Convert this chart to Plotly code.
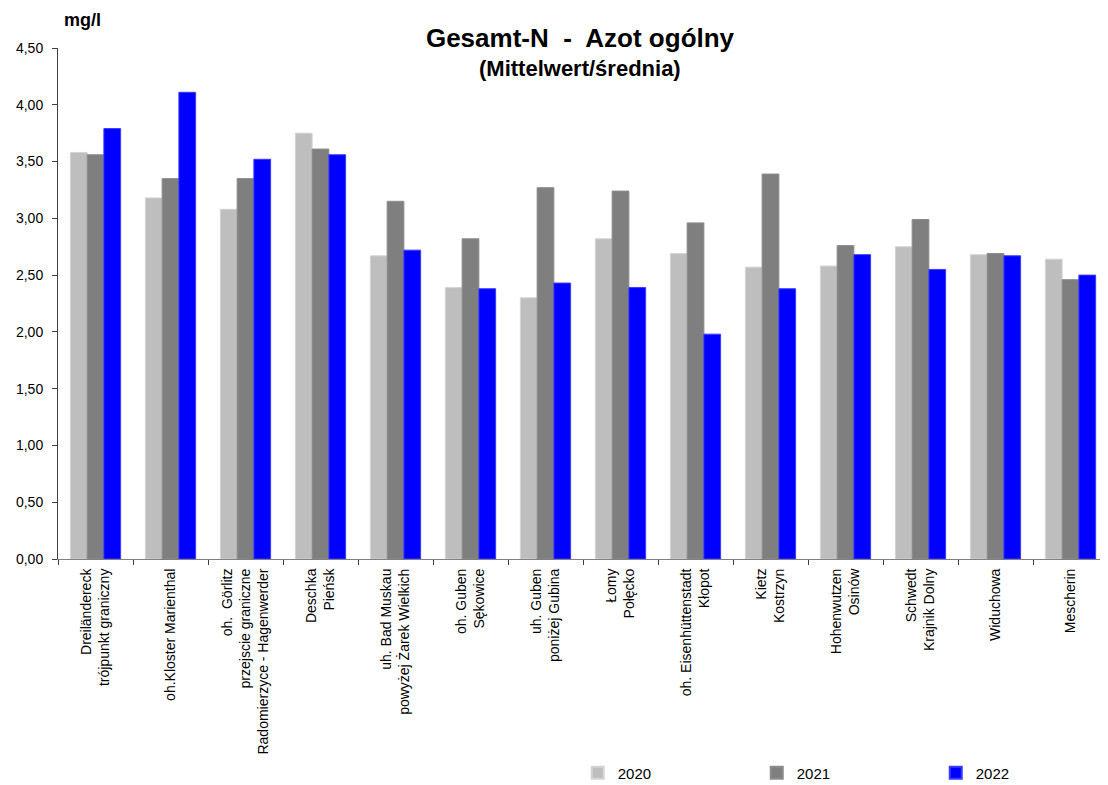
import plotly.graph_objects as go

categories = [
    "Dreiländereck<br>trójpunkt graniczny",
    "oh.Kloster Marienthal",
    "oh.  Görlitz<br>przejscie graniczne<br>Radomierzyce - Hagenwerder",
    "Deschka<br>Pieńsk",
    "uh. Bad Muskau<br>powyżej Żarek Wielkich",
    "oh. Guben<br>Sękowice",
    "uh. Guben<br>poniżej Gubina",
    "Łomy<br>Połęcko",
    "oh. Eisenhüttenstadt<br>Kłopot",
    "Kietz<br>Kostrzyn",
    "Hohenwutzen<br>Osinów",
    "Schwedt<br>Krajnik Dolny",
    "Widuchowa",
    "Mescherin",
]
v2020 = [3.58, 3.18, 3.08, 3.75, 2.67, 2.39, 2.30, 2.82, 2.69, 2.57, 2.58, 2.75, 2.68, 2.64]
v2021 = [3.56, 3.35, 3.35, 3.61, 3.15, 2.82, 3.27, 3.24, 2.96, 3.39, 2.76, 2.99, 2.69, 2.46]
v2022 = [3.79, 4.11, 3.52, 3.56, 2.72, 2.38, 2.43, 2.39, 1.98, 2.38, 2.68, 2.55, 2.67, 2.50]
series_names = ["2020", "2021", "2022"]
colors = ["#BEBEBE", "#7F7F7F", "#0000FF"]
outlines = ["#D4D4D4", "#8C8C8C", "#3A3AFF"]

fig = go.Figure()
for name, vals, c, oc in zip(series_names, [v2020, v2021, v2022], colors, outlines):
    fig.add_trace(go.Bar(
        name=name, x=categories, y=vals,
        marker=dict(color=c, line=dict(color=oc, width=1)),
    ))

font_family = "Liberation Sans, Arial, sans-serif"
fig.update_layout(
    width=1100, height=777,
    paper_bgcolor="white", plot_bgcolor="white",
    margin=dict(l=50, r=0, t=40, b=226, autoexpand=False),
    barmode="group", bargap=0.33, bargroupgap=0,
    font=dict(family=font_family, size=14, color="#000000"),
    separators=",.",
    title=dict(
        text="<b>Gesamt-N  -  Azot ogólny</b>",
        x=0.52, xanchor="center", y=0.961, yanchor="middle",
        font=dict(size=26, family=font_family, color="#000000"),
    ),
    showlegend=True,
    legend=dict(
        orientation="h", x=0.495, xanchor="left", y=-0.419, yanchor="middle",
        entrywidth=134, entrywidthmode="pixels", itemwidth=30,
        font=dict(size=15), itemsizing="constant",
        tracegroupgap=0,
    ),
    xaxis=dict(
        tickangle=-90, showline=True, linecolor="#808080", linewidth=1,
        ticks="outside", tickson="boundaries", ticklen=5, tickcolor="#404040",
        showgrid=False, tickfont=dict(size=14), ticklabelstandoff=3,
    ),
    yaxis=dict(
        range=[0, 4.5], dtick=0.5, tickformat=".2f",
        showline=True, linecolor="#404040", linewidth=1,
        ticks="outside", ticklen=5, tickcolor="#404040",
        showgrid=False, zeroline=False, tickfont=dict(size=14),
        ticklabelstandoff=6,
    ),
    annotations=[
        dict(
            text="<b>mg/l</b>", xref="paper", yref="paper", x=0.0038, y=1.055,
            xanchor="left", yanchor="middle", showarrow=False,
            font=dict(size=18, family=font_family),
        ),
        dict(
            text="<b>(Mittelwert/średnia)</b>", xref="paper", yref="paper",
            x=0.497, y=0.960, xanchor="center", yanchor="middle",
            showarrow=False, font=dict(size=22, family=font_family),
        ),
    ],
)

fig.write_html("out.html")
